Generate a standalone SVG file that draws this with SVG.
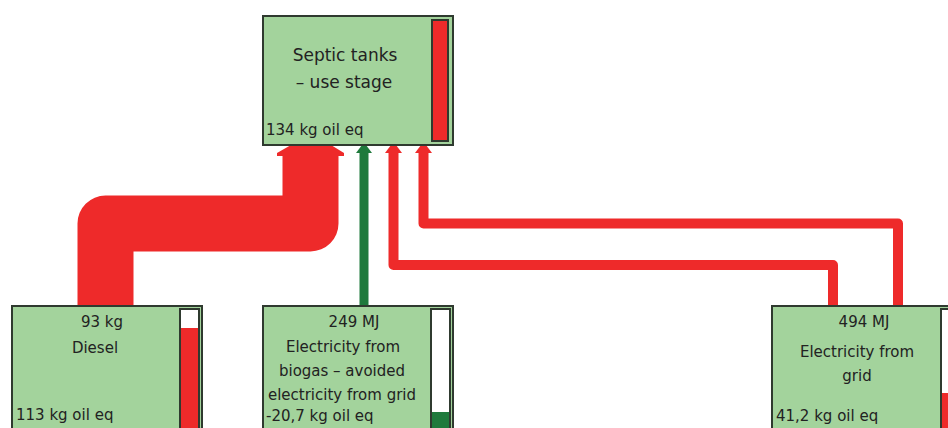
<svg xmlns="http://www.w3.org/2000/svg" width="948" height="428" viewBox="0 0 948 428">
<style>
.box{fill:#a3d39c;stroke:#2f3a2f;stroke-width:2}
.bar{fill:#ffffff;stroke:#2f3a2f;stroke-width:2}
.t{font-family:"DejaVu Sans",Verdana,sans-serif;font-size:15px;fill:#222}
.tl{font-family:"DejaVu Sans",Verdana,sans-serif;font-size:17px;fill:#222}
.red{fill:none;stroke:#ee2a2a;stroke-linejoin:round}
.grn{fill:none;stroke:#1f7a3c}
</style>
<rect width="948" height="428" fill="#ffffff"/>
<g id="connectors">
  <path class="red" d="M105.5 306 V223.5 H310.5 V156" stroke-width="56"/>
  <polygon points="283,156 277,156 277,153 291,145 331,145 344,153 344,156 338,156" fill="#ee2a2a"/>
  <path class="grn" d="M364 306 V153" stroke-width="9"/>
  <polygon points="359.5,153 356,153 362,145 366,145 372,153 368.5,153" fill="#1f7a3c"/>
  <path class="red" d="M833 306 V265 H393.5 V153" stroke-width="10"/>
  <polygon points="388.5,153 385,153 391,145 396,145 402,153 398.5,153" fill="#ee2a2a"/>
  <path class="red" d="M898 306 V223.5 H423.5 V153" stroke-width="10"/>
  <polygon points="418.5,153 415,153 421,145 426,145 432,153 428.5,153" fill="#ee2a2a"/>
</g>
<g id="septic">
  <rect class="box" x="263" y="16" width="190" height="129"/>
  <rect x="432" y="20" width="16" height="121" fill="#ee2a2a" stroke="#2f3a2f" stroke-width="2"/>
  <text class="tl" x="345" y="61" text-anchor="middle">Septic tanks</text>
  <text class="tl" x="344" y="88" text-anchor="middle">– use stage</text>
  <text class="t" x="266" y="135">134 kg oil eq</text>
</g>
<g id="diesel">
  <rect class="box" x="12" y="306" width="190" height="130"/>
  <rect class="bar" x="180" y="309" width="19" height="130"/>
  <rect x="181" y="328" width="17" height="110" fill="#ee2a2a"/>
  <text class="t" x="102" y="327" text-anchor="middle">93 kg</text>
  <text class="t" x="95" y="353" text-anchor="middle">Diesel</text>
  <text class="t" x="16" y="420">113 kg oil eq</text>
</g>
<g id="biogas">
  <rect class="box" x="263" y="306" width="190" height="130"/>
  <rect class="bar" x="431" y="309" width="19" height="130"/>
  <rect x="432" y="412" width="17" height="26" fill="#1f7a3c"/>
  <text class="t" x="354" y="327" text-anchor="middle">249 MJ</text>
  <text class="t" x="343" y="352" text-anchor="middle">Electricity from</text>
  <text class="t" x="342" y="376" text-anchor="middle">biogas – avoided</text>
  <text class="t" x="342" y="400" text-anchor="middle">electricity from grid</text>
  <text class="t" x="266" y="421">-20,7 kg oil eq</text>
</g>
<g id="grid">
  <rect class="box" x="772" y="306" width="190" height="130"/>
  <rect class="bar" x="941" y="309" width="19" height="130"/>
  <rect x="942" y="393" width="17" height="45" fill="#ee2a2a"/>
  <text class="t" x="864" y="327" text-anchor="middle">494 MJ</text>
  <text class="t" x="857" y="357" text-anchor="middle">Electricity from</text>
  <text class="t" x="857" y="381" text-anchor="middle">grid</text>
  <text class="t" x="776" y="421">41,2 kg oil eq</text>
</g>
</svg>
